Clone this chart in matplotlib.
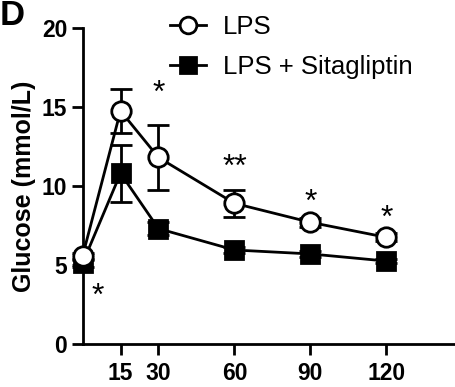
import numpy as np
import matplotlib
matplotlib.use("Agg")
import matplotlib.pyplot as plt
from matplotlib.lines import Line2D

plt.rcParams['font.family'] = ['Liberation Sans', 'DejaVu Sans']

# datos
tiempo = [0, 15, 30, 60, 90, 120]
lps = [5.55, 14.75, 11.8, 8.9, 7.7, 6.75]
lps_err = [0.2, 1.4, 2.05, 0.85, 0.3, 0.25]
sita = [5.1, 10.8, 7.3, 5.95, 5.7, 5.25]
sita_err = [0.2, 1.8, 0.4, 0.2, 0.2, 0.15]

etiquetas_x = ['15', '30', '60', '90', '120']
ticks_x = [15, 30, 60, 90, 120]
ticks_y = [0, 5, 10, 15, 20]

# asteriscos de significancia (x, y, texto)
sig_x = [6, 30, 60, 90, 120]
sig_y = [3.0, 15.85, 11.15, 8.95, 7.9]
sig_txt = ['*', '*', '**', '*', '*']

fig = plt.figure(figsize=(4.56, 3.87), dpi=100)
ax = fig.add_axes([0.181, 0.111, 0.819, 0.817])

ax.errorbar(tiempo, lps, yerr=lps_err, color='black', lw=2, marker='o',
            ms=14, mfc='white', mec='black', mew=2, capsize=8, capthick=2,
            elinewidth=2, zorder=3)
ax.errorbar(tiempo, sita, yerr=sita_err, color='black', lw=2, marker='s',
            ms=13.5, mfc='black', mec='black', mew=2, capsize=8, capthick=2,
            elinewidth=2, zorder=2)

for x, y, t in zip(sig_x, sig_y, sig_txt):
    ax.text(x, y, t, ha='center', va='center', fontsize=23)

ax.set_xlim(0, 147.5)
ax.set_ylim(0, 20)
ax.set_xticks(ticks_x)
ax.set_xticklabels(etiquetas_x, fontsize=16.5, fontweight='bold')
ax.set_yticks(ticks_y)
ax.set_yticklabels([str(v) for v in ticks_y], fontsize=16.5, fontweight='bold')
ax.tick_params(width=2, length=8, pad=3)
ax.tick_params(axis='x', pad=5)
ax.spines['top'].set_visible(False)
ax.spines['right'].set_visible(False)
ax.spines['left'].set_linewidth(2)
ax.spines['bottom'].set_linewidth(2)
ax.set_ylabel('Glucose (mmol/L)', fontsize=18, fontweight='bold', labelpad=4)
for c in ax.get_lines():
    c.set_clip_on(False)
for coll in ax.collections:
    coll.set_clip_on(False)

handles = [
    Line2D([], [], color='black', lw=2, marker='o', ms=12, mfc='white',
           mec='black', mew=2),
    Line2D([], [], color='black', lw=2, marker='s', ms=11.5, mfc='black',
           mec='black', mew=2),
]
ax.legend(handles, ['LPS', 'LPS + Sitagliptin'], loc='upper left',
          bbox_to_anchor=(0.234, 1.04), frameon=False, fontsize=18.5,
          handlelength=1.4, handletextpad=0.66, labelspacing=0.62,
          borderpad=0, borderaxespad=0)

fig.text(0.0, 0.935, 'D', fontsize=25, fontweight='bold', va='baseline', ha='left')

plt.savefig('out.png', dpi=100)
